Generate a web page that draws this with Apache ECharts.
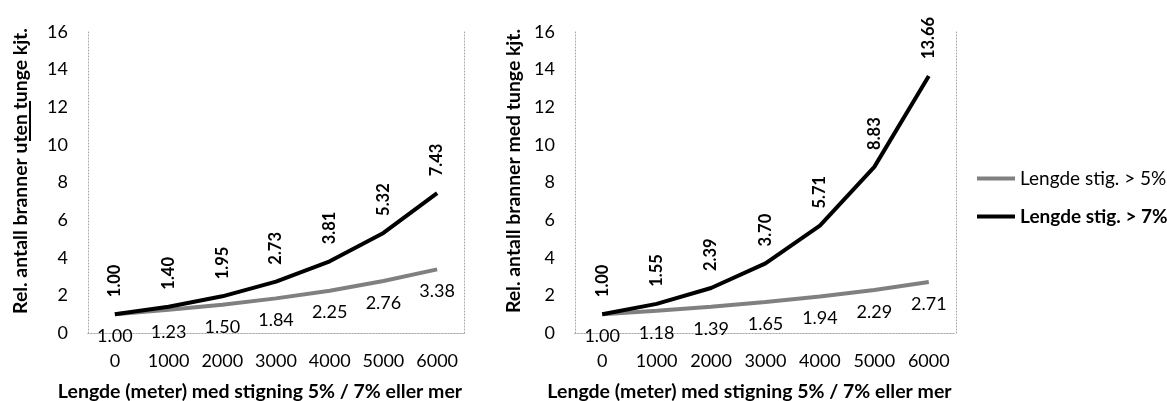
<!DOCTYPE html>
<html><head><meta charset="utf-8">
<script src="https://cdn.jsdelivr.net/npm/echarts@6/dist/echarts.min.js"></script>
<style>html,body{margin:0;padding:0;background:#fff}#c{width:1167px;height:401px}</style>
</head><body><div id="c"></div>
<script>
const categories = ['0','1000','2000','3000','4000','5000','6000'];
const left5 = [1.00, 1.23, 1.50, 1.84, 2.25, 2.76, 3.38];
const left7 = [1.00, 1.40, 1.95, 2.73, 3.81, 5.32, 7.43];
const right5 = [1.00, 1.18, 1.39, 1.65, 1.94, 2.29, 2.71];
const right7 = [1.00, 1.55, 2.39, 3.70, 5.71, 8.83, 13.66];
const seriesNames = ['Lengde stig. > 5%', 'Lengde stig. > 7%'];
const yNameLeft = 'Rel. antall branner uten tunge kjt.';
const yNameRight = 'Rel. antall branner med tunge kjt.';
const xName = 'Lengde (meter) med stigning 5% / 7% eller mer';

const FONT = 'Lato';
const dotted = {color:'#a6a6a6', width:1, type:[1,2]};
const grids = [
  {left:88, right:703, top:32, bottom:68, outerBoundsMode:'none', containLabel:false},
  {left:575, right:211, top:32, bottom:68, outerBoundsMode:'none', containLabel:false}
];
const xAxes = [], yAxes = [];
[0,1].forEach(i=>{
  xAxes.push({type:'category', gridIndex:i, data:categories, boundaryGap:true,
    axisLine:{show:true, lineStyle:dotted}, axisTick:{show:false},
    axisLabel:{color:'#000', fontFamily:FONT, fontSize:18, margin:19, interval:0},
    name:xName, nameLocation:'middle', nameGap:49,
    nameTextStyle:{color:'#000', fontFamily:FONT, fontSize:19.5, fontWeight:'bold', padding:[0,32,0,0]}});
  xAxes.push({type:'category', gridIndex:i, data:categories, position:'top', boundaryGap:true,
    axisLine:{show:true, lineStyle:dotted}, axisTick:{show:false}, axisLabel:{show:false}});
  yAxes.push({type:'value', gridIndex:i, min:0, max:16, interval:2,
    axisLine:{show:true, lineStyle:dotted}, axisTick:{show:false}, splitLine:{show:false},
    axisLabel:{color:'#000', fontFamily:FONT, fontSize:18, margin:20},
    name: i===0 ? yNameLeft : yNameRight, nameLocation:'middle', nameGap: i===0 ? 58 : 52,
    nameTextStyle:{color:'#000', fontFamily:FONT, fontSize:19.4, fontWeight:'bold', padding:[0,0,0,23]}});
  yAxes.push({type:'value', gridIndex:i, min:0, max:16, interval:2, position:'right',
    axisLine:{show:true, lineStyle:dotted}, axisTick:{show:false}, splitLine:{show:false}, axisLabel:{show:false}});
});

function graySeries(data, xi, yi){
  return {name:seriesNames[0], type:'line', xAxisIndex:xi, yAxisIndex:yi, data:data,
    showSymbol:true, symbol:'circle', symbolSize:0, z:2,
    lineStyle:{color:'#808080', width:4}, itemStyle:{color:'#808080'},
    label:{show:true, position:'bottom', distance:13, color:'#000', fontFamily:FONT, fontSize:18,
      formatter:p=>p.value.toFixed(2)}};
}
function blackSeries(data, xi, yi){
  return {name:seriesNames[1], type:'line', xAxisIndex:xi, yAxisIndex:yi, data:data,
    showSymbol:true, symbol:'circle', symbolSize:0, z:3,
    lineStyle:{color:'#000', width:4}, itemStyle:{color:'#000'},
    label:{show:true, position:'top', distance:17, rotate:90, align:'left', verticalAlign:'middle',
      color:'#000', fontFamily:FONT, fontSize:16.5, fontWeight:'bold',
      formatter:p=>p.value.toFixed(2)}};
}

const chart = echarts.init(document.getElementById('c'), null, {renderer:'canvas'});
chart.setOption({
  animation:false,
  textStyle:{fontFamily:FONT},
  grid:grids, xAxis:xAxes, yAxis:yAxes,
  legend:{orient:'vertical', left:972, top:164, itemWidth:38, itemHeight:4, itemGap:19,
    icon:'rect', textStyle:{color:'#000', fontFamily:FONT, fontSize:19},
    data:[{name:seriesNames[0]}, {name:seriesNames[1], textStyle:{fontWeight:'bold'}}]},
  series:[
    graySeries(left5, 0, 0), blackSeries(left7, 0, 0),
    graySeries(right5, 2, 2), blackSeries(right7, 2, 2)
  ],
  graphic:[{type:'rect', shape:{x:29, y:101, width:2, height:40}, style:{fill:'#000'}}]
});
</script></body></html>
